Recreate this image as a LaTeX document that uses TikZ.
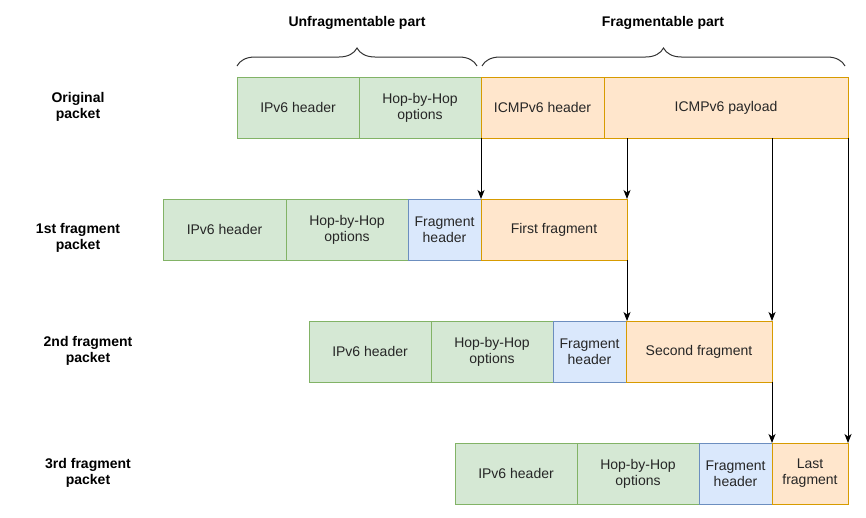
\documentclass[tikz,border=0pt]{standalone}
\usepackage{fontspec}
\setmainfont{Liberation Sans}
\usetikzlibrary{positioning,arrows.meta,decorations.pathreplacing}
\definecolor{hdrfill}{HTML}{D5E8D4}
\definecolor{hdrline}{HTML}{82B366}
\definecolor{fhfill}{HTML}{DAE8FC}
\definecolor{fhline}{HTML}{6C8EBF}
\definecolor{plfill}{HTML}{FFE6CC}
\definecolor{plline}{HTML}{D79B00}
\tikzset{
  pkt/.style={draw, line width=1pt, minimum height=61pt, inner sep=0pt, outer sep=0pt,
    align=center, font=\fontsize{14}{16}\selectfont, text=black!85},
  ipv/.style={pkt, fill=hdrfill, draw=hdrline},
  fraghdr/.style={pkt, fill=fhfill, draw=fhline},
  payload/.style={pkt, fill=plfill, draw=plline},
  rowlabel/.style={align=center, font=\bfseries\fontsize{14}{16}\selectfont},
  move/.style={-{Stealth[length=9pt,width=7pt,inset=2.5pt]}, line width=1pt},
  part/.style={decorate, decoration={brace, amplitude=18pt}, line width=1pt, black!80}
}
\begin{document}
\begin{tikzpicture}[x=1pt, y=-1pt]
    \useasboundingbox (0,0) rectangle (866,517);

    % Original packet
    \node[ipv, anchor=north west, minimum width=122pt] (o1) at (237,77) {IPv6 header};
    \node[ipv, minimum width=122pt, right=0pt of o1] (o2) {Hop-by-Hop\\options};
    \node[payload, minimum width=123pt, right=0pt of o2] (o3) {ICMPv6 header};
    \node[payload, minimum width=244pt, right=0pt of o3] (o4) {ICMPv6 payload};

    % 1st fragment
    \node[ipv, anchor=north west, minimum width=123pt] (a1) at (163,199) {IPv6 header};
    \node[ipv, minimum width=122pt, right=0pt of a1] (a2) {Hop-by-Hop\\options};
    \node[fraghdr, minimum width=73pt, right=0pt of a2] (a3) {Fragment\\header};
    \node[payload, minimum width=146pt, right=0pt of a3] (a4) {First fragment};

    % 2nd fragment
    \node[ipv, anchor=north west, minimum width=122pt] (b1) at (309,321) {IPv6 header};
    \node[ipv, minimum width=122pt, right=0pt of b1] (b2) {Hop-by-Hop\\options};
    \node[fraghdr, minimum width=73pt, right=0pt of b2] (b3) {Fragment\\header};
    \node[payload, minimum width=146pt, right=0pt of b3] (b4) {Second fragment};

    % 3rd fragment
    \node[ipv, anchor=north west, minimum width=122pt] (c1) at (455,443) {IPv6 header};
    \node[ipv, minimum width=122pt, right=0pt of c1] (c2) {Hop-by-Hop\\options};
    \node[fraghdr, minimum width=73pt, right=0pt of c2] (c3) {Fragment\\header};
    \node[payload, minimum width=76pt, right=0pt of c3] (c4) {Last\\fragment};

    % row labels
    \node[rowlabel] (lo) at (78,107) {Original\\packet};
    \node[rowlabel] (la) at (78,238) {1st fragment\\packet};
    \node[rowlabel] (lb) at (88,351) {2nd fragment\\packet};
    \node[rowlabel] (lc) at (88,473) {3rd fragment\\packet};

    % braces
    \draw[part] (237,66) -- (477,66);
    \draw[part] (482,66) -- (845,66);
    \node[rowlabel] (unf) at (357,23) {Unfragmentable part};
    \node[rowlabel] (frg) at (663,23) {Fragmentable part};

    % where the data goes
    \draw[move] (o3.south west) -- (a4.north west);
    \draw[move] (o4.south -| a4.north east) -- (a4.north east);
    \draw[move] (a4.south east) -- (a4.south east |- b4.north);
    \draw[move] (o4.south -| b4.north east) -- (b4.north east);
    \draw[move] (b4.south east) -- (b4.south east |- c4.north);
    \draw[move] (o4.south east) -- (c4.north east);
\end{tikzpicture}
\end{document}
